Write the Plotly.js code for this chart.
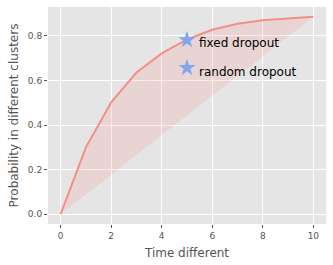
<!DOCTYPE html>
<html><head><meta charset="utf-8">
<script src="https://cdn.plot.ly/plotly-3.0.1.min.js"></script>
<style>html,body{margin:0;padding:0;background:#fff}#c{width:333px;height:265px}</style>
</head><body><div id="c"></div>
<script>
const timeDiff = [0,1,2,3,4,5,6,7,8,9,10];
const probCurve = [0.0,0.30,0.502,0.636,0.722,0.785,0.828,0.855,0.870,0.879,0.886];
const probBaseline = [0.0,0.089,0.177,0.266,0.354,0.443,0.532,0.620,0.709,0.797,0.886];
const markerX = [5,5];
const markerY = [0.782,0.657];
const labelX = [5.40,5.40];
const labelY = [0.767,0.637];
const markerLabels = ['fixed dropout','random dropout'];

const font = 'DejaVu Sans, sans-serif';
const traces = [
  {x: timeDiff, y: probBaseline, mode:'lines', line:{width:0}, hoverinfo:'skip', showlegend:false},
  {x: timeDiff, y: probCurve, mode:'lines', fill:'tonexty', fillcolor:'rgba(245,120,110,0.15)',
   line:{color:'#F58F86', width:2}, showlegend:false},
  {x: markerX, y: markerY, mode:'markers',
   marker:{symbol:'star', size:13, color:'#7FA6EE'}, showlegend:false}
];
const annotations = markerLabels.map((t,i)=>({x: labelX[i], y: labelY[i], xref:'x', yref:'y', text:t,
  showarrow:false, xanchor:'left', yanchor:'middle', font:{family:font, size:12, color:'#000'}}));
const layout = {
  width:333, height:265,
  margin:{l:48, r:7, t:7, b:41},
  paper_bgcolor:'#fff', plot_bgcolor:'#E5E5E5',
  font:{family:font, color:'#555'},
  annotations: annotations,
  xaxis:{range:[-0.5,10.5], tickvals:[0,2,4,6,8,10], gridcolor:'#fff', gridwidth:1, zeroline:false,
    ticks:'outside', ticklen:3, tickcolor:'#555', tickfont:{size:9, color:'#555'},
    title:{text:'Time different', font:{size:12, color:'#555'}, standoff:8}},
  yaxis:{range:[-0.0443,0.930], tickvals:[0,0.2,0.4,0.6,0.8], ticktext:['0.0','0.2','0.4','0.6','0.8'],
    gridcolor:'#fff', gridwidth:1, zeroline:false,
    ticks:'outside', ticklen:3, tickcolor:'#555', tickfont:{size:9, color:'#555'},
    title:{text:'Probability in different clusters', font:{size:12, color:'#555'}, standoff:6}}
};
Plotly.newPlot('c', traces, layout, {displayModeBar:false, staticPlot:true});
</script></body></html>
